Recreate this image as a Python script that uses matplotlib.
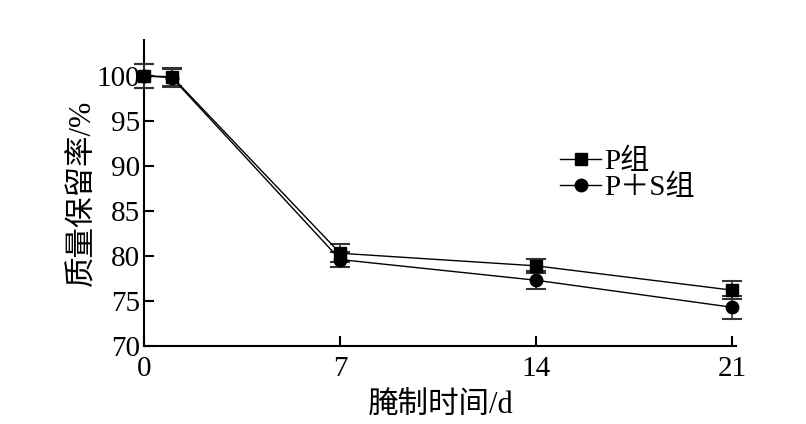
import matplotlib
matplotlib.use("Agg")
import matplotlib.pyplot as plt
from matplotlib.lines import Line2D

days = [0, 1, 7, 14, 21]
p_vals = [100.0, 99.9, 80.3, 78.9, 76.2]
p_err = [1.3, 1.0, 1.0, 0.8, 1.0]
ps_vals = [100.0, 99.8, 79.6, 77.3, 74.3]
ps_err = [1.3, 1.0, 0.8, 1.0, 1.3]
xticks = [0, 7, 14, 21]
yticks = [70, 75, 80, 85, 90, 95, 100]
labels = ['P组', 'P＋S组']

serif = ['Liberation Serif', 'Noto Sans CJK SC']

fig = plt.figure(figsize=(8.06, 4.24), dpi=100)
ax = fig.add_axes([0.1787, 0.184, 0.735, 0.722])

for vals, err, mk in [(p_vals, p_err, 's'), (ps_vals, ps_err, 'o')]:
    cont = ax.errorbar(days, vals, yerr=err, color='black', marker=mk, markersize=9,
                       linewidth=1.0, elinewidth=1.2, ecolor='#333333', capsize=7,
                       capthick=1.5, zorder=3)
    for art in [cont[0]] + list(cont[1]) + list(cont[2]):
        art.set_clip_on(False)

ax.set_xlim(0, 21.15)
ax.set_ylim(70, 104)
ax.set_xticks(xticks)
ax.set_yticks(yticks)
ax.spines['top'].set_visible(False)
ax.spines['right'].set_visible(False)
ax.spines['left'].set_linewidth(1.5)
ax.spines['bottom'].set_linewidth(1.5)
ax.tick_params(direction='in', length=7, width=1.5, labelsize=21)
for lab in ax.get_xticklabels() + ax.get_yticklabels():
    lab.set_family(serif)
ax.tick_params(axis='y', pad=3)
ax.tick_params(axis='x', pad=7)

ax.set_xlabel('腌制时间/d', fontsize=22, family=serif, labelpad=7)
ax.set_ylabel('质量保留率/%', fontsize=22, family=serif, labelpad=-1)

handles = [Line2D([], [], color='black', marker='s', markersize=9, linewidth=1.0),
           Line2D([], [], color='black', marker='o', markersize=9, linewidth=1.0)]
ax.legend(handles, labels, loc='upper left', bbox_to_anchor=(0.703, 0.645), frameon=False,
          prop={'family': serif, 'size': 21}, handlelength=1.4,
          handletextpad=0.1, labelspacing=0.0, borderpad=0, borderaxespad=0)

fig.savefig('out.png', dpi=100)
